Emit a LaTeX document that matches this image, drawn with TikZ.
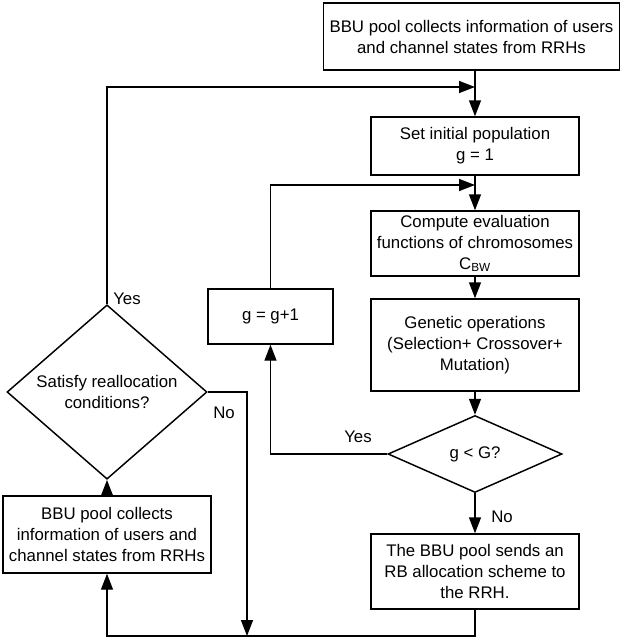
\documentclass[tikz,border=0pt]{standalone}
\usepackage{fontspec}
\setmainfont{Liberation Sans}
\usetikzlibrary{shapes.geometric,arrows.meta}
\begin{document}
\begin{tikzpicture}[x=0.75pt,y=-0.75pt,
    font=\fontsize{12.6}{15.75}\selectfont,
    box/.style={draw,line width=1.1pt,align=center,inner sep=0pt},
    dec/.style={draw,line width=1.1pt,diamond,inner sep=0pt,align=center},
    arr/.style={line width=1.1pt,-{Triangle[length=12pt,width=9pt]}},
    ln/.style={line width=1.1pt}]
  \useasboundingbox (0,0) rectangle (621,639);
  % right column
  \node[box,minimum width=222pt,minimum height=50pt] (top) at (471.5,36.5) {BBU pool collects information of users\\and channel states from RRHs};
  \node[box,minimum width=156pt,minimum height=43.5pt] (init) at (475,146) {Set initial population\\g = 1};
  \node[box,minimum width=156pt,minimum height=48.75pt] (eval) at (475,243.5) {Compute evaluation\\functions of chromosomes\\C\textsubscript{BW}};
  \node[box,minimum width=156pt,minimum height=69pt] (gen) at (475,345) {Genetic operations\\ (Selection+ Crossover+\\Mutation)};
  \node[dec,minimum width=130.5pt,minimum height=57.75pt] (cmp) at (475,454) {g < G?};
  \node[box,minimum width=156pt,minimum height=56.25pt] (send) at (475,571.5) {The BBU pool sends an\\RB allocation scheme to\\the RRH.};
  % middle and left column
  \node[box,minimum width=93.75pt,minimum height=41.25pt] (incr) at (270.5,316.5) {g = g+1};
  \node[box,minimum width=156pt,minimum height=57.75pt] (coll) at (107,534.5) {BBU pool collects\\information of users and\\channel states from RRHs};
  \node[dec,minimum width=150pt,minimum height=96pt] (real) at (107,392) {Satisfy reallocation\\conditions?};
  \coordinate (j1) at (475,87);
  \coordinate (j2) at (475,185);
  \coordinate (j3) at (247,636);
  % connectors
  \draw[arr] (init |- top.south) -- (init);
  \draw[arr] (init) -- (eval);
  \draw[arr] (eval) -- (gen);
  \draw[arr] (gen) -- (cmp);
  \draw[arr] (cmp) -- (send);
  \node (no1) at (502,517) {No};
  \draw[arr] (cmp.west) -| (incr.south);
  \node (yes1) at (358,437) {Yes};
  \draw[arr] (incr.north) |- (j2);
  \draw[ln] (send.south) |- (j3);
  \draw[arr] (j3) -| (coll.south);
  \draw[arr] (coll) -- (real);
  \draw[arr] (real.north) |- (j1);
  \node (yes2) at (127,299) {Yes};
  \draw[arr] (real.east) -| (j3);
  \node (no2) at (224,413) {No};
\end{tikzpicture}
\end{document}
